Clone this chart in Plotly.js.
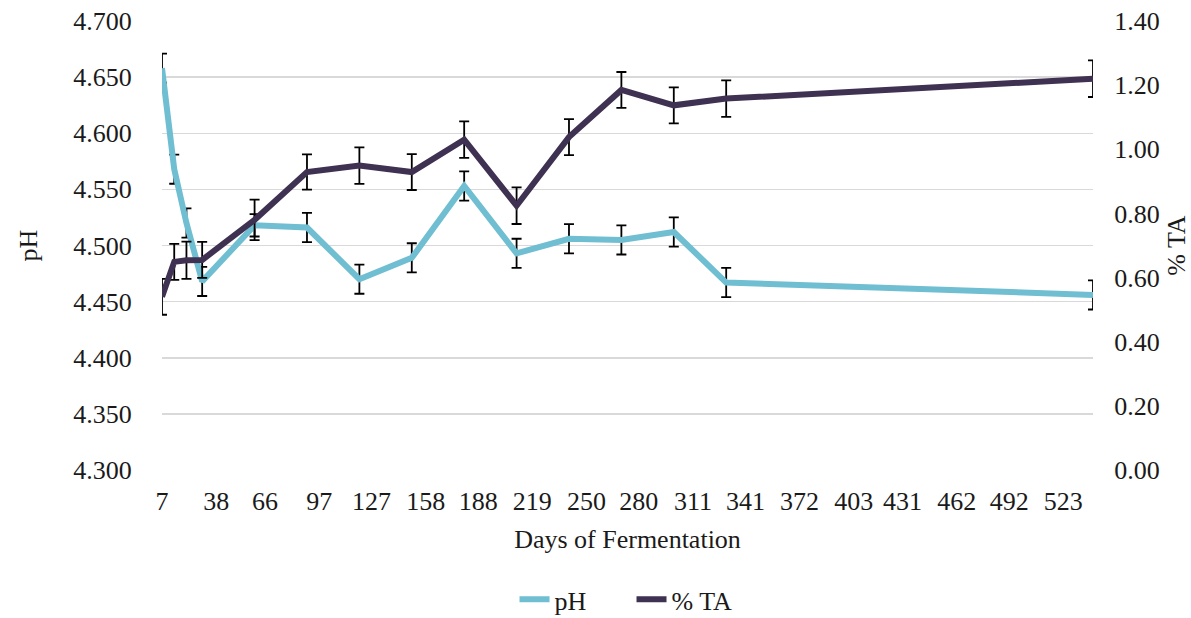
<!DOCTYPE html>
<html>
<head>
<meta charset="utf-8">
<script src="https://cdn.plot.ly/plotly-3.0.1.min.js"></script>
<style>html,body{margin:0;padding:0;background:#fff;}#chart{width:1191px;height:618px;}</style>
</head>
<body>
<div id="chart"></div>
<script>
const days = [7, 14, 21, 30, 60, 90, 120, 150, 180, 210, 240, 270, 300, 330, 540];
const pH = [4.658, 4.568, 4.520, 4.468, 4.518, 4.516, 4.470, 4.489, 4.553, 4.493, 4.506, 4.505, 4.512, 4.467, 4.456];
const pHErr = [0.013, 0.013, 0.013, 0.013, 0.010, 0.013, 0.013, 0.013, 0.013, 0.013, 0.013, 0.013, 0.013, 0.013, 0.013];
const TA = [0.540, 0.649, 0.654, 0.655, 0.780, 0.929, 0.949, 0.929, 1.030, 0.824, 1.038, 1.185, 1.137, 1.158, 1.220];
const TAErr = [0.056, 0.056, 0.058, 0.056, 0.063, 0.055, 0.057, 0.056, 0.057, 0.057, 0.056, 0.056, 0.056, 0.057, 0.057];
const xTicks = [7, 38, 66, 97, 127, 158, 188, 219, 250, 280, 311, 341, 372, 403, 431, 462, 492, 523];

const font = {family: '"Liberation Serif", "Times New Roman", serif', size: 26, color: '#1a1a1a'};
const errStyle = {type: 'data', visible: true, color: '#000000', thickness: 1.8, width: 5};

const traces = [
  {
    x: days, y: pH, name: 'pH', type: 'scatter', mode: 'lines',
    line: {color: '#70BED1', width: 6},
    error_y: Object.assign({array: pHErr}, errStyle),
    yaxis: 'y'
  },
  {
    x: days, y: TA, name: '% TA', type: 'scatter', mode: 'lines',
    line: {color: '#3F3151', width: 6},
    error_y: Object.assign({array: TAErr}, errStyle),
    yaxis: 'y2'
  }
];

const layout = {
  width: 1191, height: 618,
  margin: {l: 162, r: 98, t: 21, b: 148, autoexpand: false},
  paper_bgcolor: '#ffffff', plot_bgcolor: '#ffffff',
  font: font,
  showlegend: true,
  legend: {
    orientation: 'h', x: 0.432, xanchor: 'left', xref: 'container',
    y: 0.03, yanchor: 'middle', yref: 'container',
    font: font, entrywidth: 72, entrywidthmode: 'pixels'
  },
  xaxis: {
    range: [7, 540], automargin: false,
    tickmode: 'array', tickvals: xTicks, ticktext: xTicks.map(String),
    showgrid: false, zeroline: false, showline: false,
    ticks: 'outside', ticklen: 8, tickcolor: 'rgba(0,0,0,0)',
    tickfont: font,
    title: {text: 'Days of Fermentation', font: font, standoff: 14}
  },
  yaxis: {
    range: [4.3, 4.7], dtick: 0.05, tick0: 4.3, tickformat: '.3f', automargin: false,
    showgrid: true, gridcolor: '#D9D9D9', gridwidth: 1.5,
    zeroline: false, showline: false,
    ticks: 'outside', ticklen: 24, tickcolor: 'rgba(0,0,0,0)',
    tickfont: font,
    title: {text: 'pH', font: font, standoff: 28}
  },
  yaxis2: {
    range: [0, 1.4], dtick: 0.2, tick0: 0, tickformat: '.2f', automargin: false,
    overlaying: 'y', side: 'right',
    showgrid: false, zeroline: false, showline: false,
    ticks: 'outside', ticklen: 15, tickcolor: 'rgba(0,0,0,0)',
    tickfont: font,
    title: {text: '% TA', font: font, standoff: 11}
  }
};

Plotly.newPlot('chart', traces, layout, {displayModeBar: false, staticPlot: true});
</script>
</body>
</html>
